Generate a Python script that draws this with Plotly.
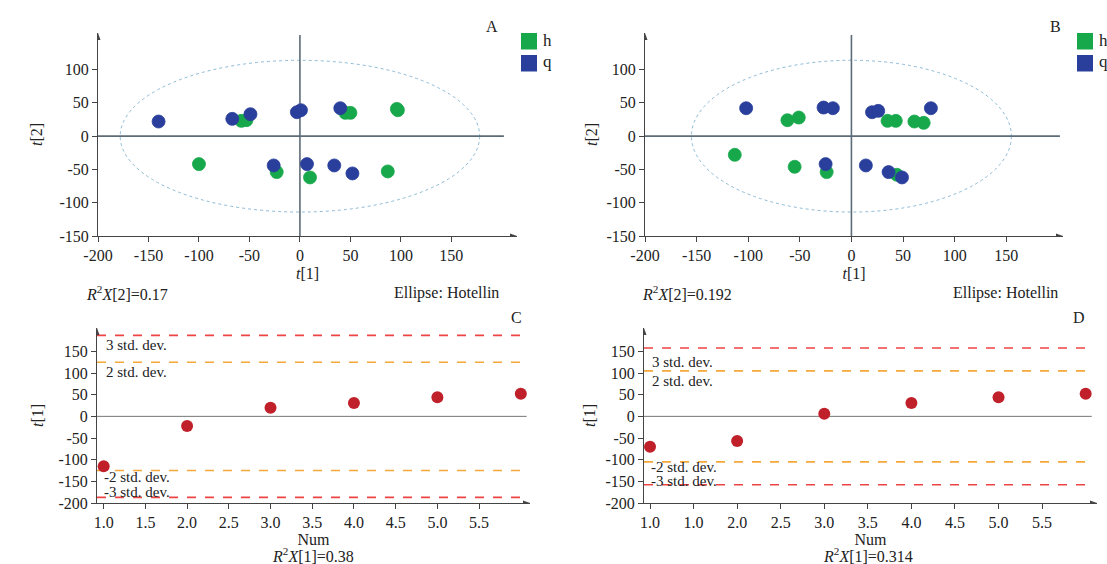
import plotly.graph_objects as go

# ---------------- data ----------------
a_h_t1 = [-58, -53, 45, 50, 96, 97, -100, -23, 10, 87]
a_h_t2 = [23, 24, 35, 35, 41, 39, -42, -54, -62, -53]
a_q_t1 = [-140, -67, -49, -3, 1, 40, -26, 7, 34, 52]
a_q_t2 = [22, 26, 33, 36, 39, 42, -44, -42, -44, -56]
b_h_t1 = [-62, -51, 35, 43, 61, 70, -113, -55, -24, 44]
b_h_t2 = [24, 28, 23, 23, 22, 20, -28, -46, -54, -58]
b_q_t1 = [-102, -27, -18, 20, 26, 77, -25, 14, 36, 49]
b_q_t2 = [42, 43, 42, 36, 38, 42, -42, -44, -54, -62]
ellipse_a = (178, 114)
ellipse_b = (155, 114)

num = [1, 2, 3, 4, 5, 6]
c_t1 = [-115, -22, 20, 31, 44, 52]
d_t1 = [-70, -57, 6, 31, 44, 52]
c_sd2, c_sd3 = 125, 187
d_sd2, d_sd3 = 105, 158

xt_ab = [-200, -150, -100, -50, 0, 50, 100, 150]
yt_ab = [-150, -100, -50, 0, 50, 100]
xt_cd = [1.0, 1.5, 2.0, 2.5, 3.0, 3.5, 4.0, 4.5, 5.0, 5.5]
xl_c = ["1.0", "1.5", "2.0", "2.5", "3.0", "3.5", "4.0", "4.5", "5.0", "5.5"]
xl_d = ["1.0", "1.0", "2.0", "2.5", "3.0", "3.5", "4.0", "4.5", "5.0", "5.5"]
yt_cd = [-200, -150, -100, -50, 0, 50, 100, 150]

GREEN = "#17a84b"
BLUE = "#2a3f9c"
RED = "#c0202a"
AX = "#444444"
FONT = "Liberation Serif"
TXT = "#222222"
FS = 16

W, H = 1107, 564


def px(x):
    return x / W


def py(y):
    return 1 - y / H


fig = go.Figure()

for xs, ys, col, nm, xa, ya in [
    (a_h_t1, a_h_t2, GREEN, "h", "x", "y"),
    (a_q_t1, a_q_t2, BLUE, "q", "x", "y"),
    (b_h_t1, b_h_t2, GREEN, "h", "x2", "y2"),
    (b_q_t1, b_q_t2, BLUE, "q", "x2", "y2"),
]:
    fig.add_trace(go.Scatter(x=xs, y=ys, mode="markers", name=nm, xaxis=xa, yaxis=ya,
                             showlegend=False,
                             marker=dict(size=13, color=col, line=dict(width=0.8, color=col))))

fig.add_trace(go.Scatter(x=num, y=c_t1, mode="markers", xaxis="x3", yaxis="y3", showlegend=False,
                         marker=dict(size=12, color=RED)))
fig.add_trace(go.Scatter(x=num, y=d_t1, mode="markers", xaxis="x4", yaxis="y4", showlegend=False,
                         marker=dict(size=12, color=RED)))

tickfont = dict(family=FONT, size=FS, color=TXT)


def xax(dom, rng, tv, title, standoff, tt=None, anchor="y"):
    return dict(domain=dom, range=rng, tickvals=tv, ticktext=tt if tt is not None else [str(v) for v in tv],
                showline=True, linecolor=AX, linewidth=1,
                ticks="outside", ticklen=5, tickcolor=AX, showgrid=False, zeroline=False,
                tickfont=tickfont, anchor=anchor, fixedrange=True, automargin=False,
                title=dict(text=title, standoff=standoff, font=dict(family=FONT, size=FS, color=TXT)))


def yax(dom, rng, tv, title, standoff, anchor="x"):
    return dict(domain=dom, range=rng, tickvals=tv, ticktext=[str(v) for v in tv],
                showline=True, linecolor=AX, linewidth=1,
                ticks="outside", ticklen=5, tickcolor=AX, showgrid=False, zeroline=False,
                tickfont=tickfont, anchor=anchor, fixedrange=True, automargin=False,
                title=dict(text=title, standoff=standoff, font=dict(family=FONT, size=FS, color=TXT)))


T1 = "<i>t</i>[1]"
T2 = "<i>t</i>[2]"

fig.update_layout(
    width=W, height=H, margin=dict(l=0, r=0, t=0, b=0, pad=0, autoexpand=False),
    paper_bgcolor="white", plot_bgcolor="white",
    font=dict(family=FONT, size=FS, color=TXT),
    xaxis=xax([px(98), px(517)], [-200, 215], xt_ab, T1, 4, anchor="y"),
    yaxis=yax([py(236), py(33)], [-150, 155], yt_ab, T2, 12, anchor="x"),
    xaxis2=xax([px(645), px(1063)], [-200, 205], xt_ab, T1, 4, anchor="y2"),
    yaxis2=yax([py(236), py(33)], [-150, 155], yt_ab, T2, 4, anchor="x2"),
    xaxis3=xax([px(97), px(530)], [0.92, 6.11], xt_cd, "Num", 0, xl_c, anchor="y3"),
    yaxis3=yax([py(503), py(328)], [-200, 204], yt_cd, T1, 10, anchor="x3"),
    xaxis4=xax([px(644), px(1097)], [0.931, 6.13], xt_cd, "Num", 0, xl_d, anchor="y4"),
    yaxis4=yax([py(503), py(328)], [-200, 204], yt_cd, T1, 5, anchor="x4"),
)

shapes = []
ann = []

for xr, yr, ell, xmax in [("x", "y", ellipse_a, 202), ("x2", "y2", ellipse_b, 202)]:
    shapes.append(dict(type="circle", xref=xr, yref=yr, x0=-ell[0], x1=ell[0], y0=-ell[1], y1=ell[1],
                       line=dict(color="#8dbad6", width=1, dash="dot"), layer="below"))
    shapes.append(dict(type="line", xref=xr, yref=yr, x0=-200, x1=xmax, y0=0, y1=0,
                       line=dict(color="#5c6b76", width=1.6), layer="below"))
    shapes.append(dict(type="line", xref=xr, yref=yr, x0=0, x1=0, y0=-150, y1=152,
                       line=dict(color="#5c6b76", width=1.6), layer="below"))

std_panels = [
    ("x3", "y3", c_sd2, c_sd3, 0.92, (1.004, 164), (1.004, 102), (0.976, -141), (0.976, -174)),
    ("x4", "y4", d_sd2, d_sd3, 0.931, (1.0, 126), (1.0, 82), (0.99, -116), (0.99, -149)),
]
SFS = 15
for xr, yr, sd2, sd3, x0, p3, p2, m2, m3 in std_panels:
    shapes.append(dict(type="line", xref=xr, yref=yr, x0=x0, x1=6.07, y0=0, y1=0,
                       line=dict(color="#777777", width=1), layer="below"))
    for v, c in [(sd3, "#ee4444"), (-sd3, "#ee4444"), (sd2, "#f5a83a"), (-sd2, "#f5a83a")]:
        shapes.append(dict(type="line", xref=xr, yref=yr, x0=x0, x1=6.07, y0=v, y1=v,
                           line=dict(color=c, width=1.6, dash="dash"), layer="below"))
    for (lx, ly), t in [(p3, "3 std. dev."), (p2, "2 std. dev."), (m2, "-2 std. dev."), (m3, "-3 std. dev.")]:
        ann.append(dict(xref=xr, yref=yr, x=lx, y=ly, text=t, showarrow=False, xanchor="left",
                        yanchor="middle", font=dict(size=SFS)))

for xr, yr, xl, yb, xe, yt in [("x", "y", -200, -150, 215, 155), ("x2", "y2", -200, -150, 205, 155),
                               ("x3", "y3", 0.92, -200, 6.11, 204), ("x4", "y4", 0.931, -200, 6.13, 204)]:
    shapes.append(dict(type="path", xref=xr, yref=yr, xsizemode="pixel", ysizemode="pixel",
                       xanchor=xl, yanchor=yt, path="M -2.5 -7 L 0 0 L 2.5 -7 Z",
                       fillcolor=AX, line=dict(width=0)))
    shapes.append(dict(type="path", xref=xr, yref=yr, xsizemode="pixel", ysizemode="pixel",
                       xanchor=xe, yanchor=yb, path="M -7 -2.5 L 0 0 L -7 2.5 Z",
                       fillcolor=AX, line=dict(width=0)))

for x0 in [521, 1077]:
    shapes.append(dict(type="rect", xref="paper", yref="paper", x0=px(x0), x1=px(x0 + 16),
                       y0=py(49.5), y1=py(33), fillcolor=GREEN, line=dict(width=0)))
    shapes.append(dict(type="rect", xref="paper", yref="paper", x0=px(x0), x1=px(x0 + 16),
                       y0=py(71.5), y1=py(55), fillcolor=BLUE, line=dict(width=0)))
    ann.append(dict(xref="paper", yref="paper", x=px(x0 + 20), y=py(41), text="h", showarrow=False,
                    xanchor="left", yanchor="middle", font=dict(size=17)))
    ann.append(dict(xref="paper", yref="paper", x=px(x0 + 20), y=py(61), text="q", showarrow=False,
                    xanchor="left", yanchor="middle", font=dict(size=17)))


def pa(x, y, text, xanchor="center", size=FS):
    ann.append(dict(xref="paper", yref="paper", x=px(x), y=py(y), text=text, showarrow=False,
                    xanchor=xanchor, yanchor="middle", font=dict(size=size)))


pa(492, 26, "A")
pa(1055, 26, "B")
pa(516, 317, "C")
pa(1079, 317, "D")

pa(84, 293, "<i>R</i><sup>2</sup><i>X</i>[2]=0.17", xanchor="left")
pa(640, 293, "<i>R</i><sup>2</sup><i>X</i>[2]=0.192", xanchor="left")
pa(501, 293, "Ellipse: Hotellin", xanchor="right")
pa(1060, 293, "Ellipse: Hotellin", xanchor="right")
pa(313, 555, "<i>R</i><sup>2</sup><i>X</i>[1]=0.38")
pa(868, 555, "<i>R</i><sup>2</sup><i>X</i>[1]=0.314")

fig.update_layout(shapes=shapes, annotations=ann)

fig.write_html("out.html")
